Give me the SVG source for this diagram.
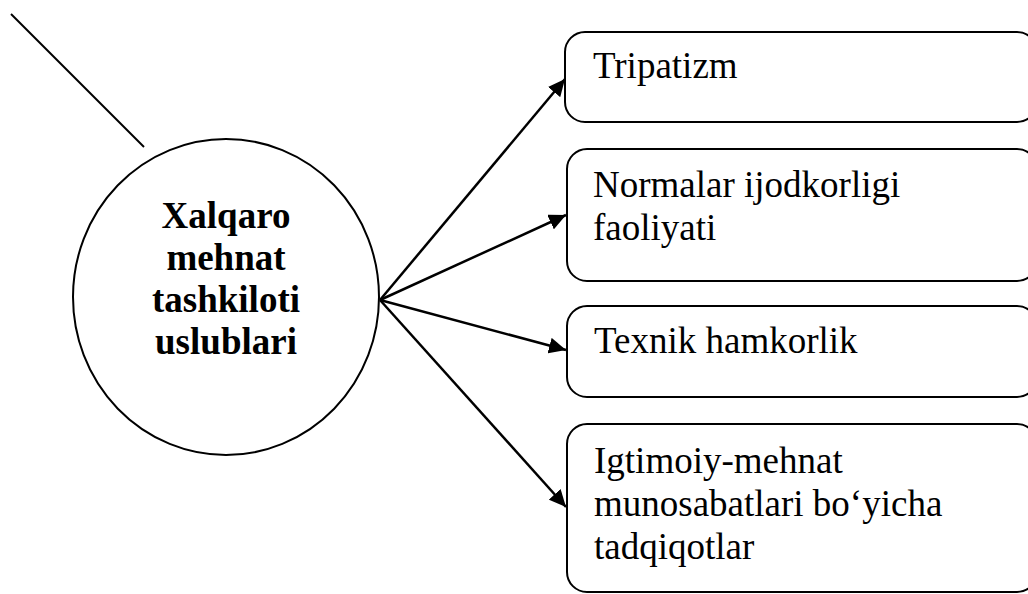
<svg xmlns="http://www.w3.org/2000/svg" width="1028" height="594" viewBox="0 0 1028 594">
  <style>
    .box { fill: #ffffff; stroke: #000000; stroke-width: 2; }
    .circ { fill: #ffffff; stroke: #000000; stroke-width: 2; }
    .conn { fill: none; stroke: #000000; stroke-width: 2.5; }
    .lbl { font-family: "Liberation Serif", "Times New Roman", serif; font-size: 37px; fill: #000000; }
    .hub { font-family: "Liberation Serif", "Times New Roman", serif; font-size: 37px; font-weight: bold; fill: #000000; text-anchor: middle; }
  </style>
  <defs>
    <marker id="arr" markerUnits="userSpaceOnUse" markerWidth="18" markerHeight="16" refX="17" refY="8" orient="auto">
      <path d="M0,0 L17,8 L0,16 Z" fill="#000000"/>
    </marker>
  </defs>
  <rect width="1028" height="594" fill="#ffffff"/>

  <line x1="11" y1="14" x2="144" y2="147" stroke="#000000" stroke-width="2"/>

  <g id="connectors">
    <line class="conn" x1="380" y1="300" x2="565" y2="79" marker-end="url(#arr)"/>
    <line class="conn" x1="380" y1="300" x2="566" y2="215" marker-end="url(#arr)"/>
    <line class="conn" x1="380" y1="300" x2="566" y2="350" marker-end="url(#arr)"/>
    <line class="conn" x1="380" y1="300" x2="566" y2="507" marker-end="url(#arr)"/>
  </g>

  <g id="hub">
    <ellipse class="circ" cx="226" cy="297" rx="153" ry="158"/>
    <text class="hub" x="226" y="228">Xalqaro</text>
    <text class="hub" x="226" y="270">mehnat</text>
    <text class="hub" x="226" y="312">tashkiloti</text>
    <text class="hub" x="226" y="354">uslublari</text>
  </g>

  <g id="node-tripatizm">
    <rect class="box" x="565" y="32" width="472" height="90" rx="20" ry="20"/>
    <text class="lbl" x="593" y="78">Tripatizm</text>
  </g>

  <g id="node-normalar">
    <rect class="box" x="567" y="149" width="470" height="132" rx="20" ry="20"/>
    <text class="lbl" x="593" y="197">Normalar ijodkorligi</text>
    <text class="lbl" x="593" y="240">faoliyati</text>
  </g>

  <g id="node-texnik">
    <rect class="box" x="567" y="306" width="470" height="91" rx="20" ry="20"/>
    <text class="lbl" x="594" y="353">Texnik hamkorlik</text>
  </g>

  <g id="node-igtimoiy">
    <rect class="box" x="567" y="424" width="470" height="168" rx="20" ry="20"/>
    <text class="lbl" x="594" y="473">Igtimoiy-mehnat</text>
    <text class="lbl" x="594" y="516">munosabatlari bo‘yicha</text>
    <text class="lbl" x="594" y="559">tadqiqotlar</text>
  </g>
</svg>
